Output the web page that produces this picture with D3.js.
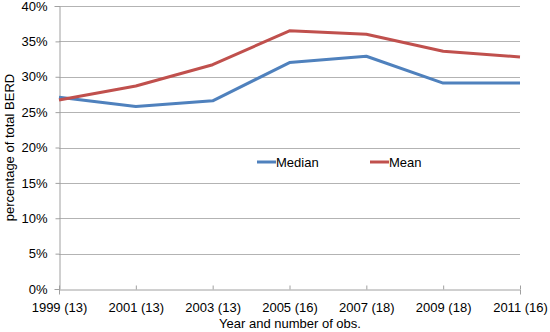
<!DOCTYPE html>
<html>
<head>
<meta charset="utf-8">
<script src="https://cdn.jsdelivr.net/npm/d3@7"></script>
<style>
  html, body { margin: 0; padding: 0; background: #fff; }
  svg text { font-family: "Liberation Sans", Arial, sans-serif; fill: #000; }
</style>
</head>
<body>
<svg id="chart" width="550" height="332"></svg>
<script>
// Share of business R&D (BERD), by survey year
const categories = ["1999 (13)", "2001 (13)", "2003 (13)", "2005 (16)", "2007 (18)", "2009 (18)", "2011 (16)"];
const medianValues = [0.271, 0.258, 0.266, 0.320, 0.329, 0.291, 0.291];
const meanValues   = [0.267, 0.287, 0.317, 0.365, 0.360, 0.336, 0.328];
const yTicks = [0, 0.05, 0.10, 0.15, 0.20, 0.25, 0.30, 0.35, 0.40];
const seriesNames = ["Median", "Mean"];
const seriesColors = ["#4F81BD", "#C0504D"];

const svg = d3.select("#chart");
const margin = { left: 59, right: 30, top: 6, bottom: 43 };
const width = 550, height = 332;

const x = d3.scalePoint().domain(categories).range([margin.left, width - margin.right]);
const y = d3.scaleLinear().domain([0, 0.40]).range([height - margin.bottom, margin.top]);

// horizontal gridlines
svg.append("g")
  .selectAll("line")
  .data(yTicks.filter(d => d > 0))
  .join("line")
  .attr("x1", margin.left).attr("x2", width - margin.right)
  .attr("y1", d => Math.round(y(d)) + 0.5).attr("y2", d => Math.round(y(d)) + 0.5)
  .attr("stroke", "#B3B3B3").attr("stroke-width", 1);

// y axis
const yAxis = svg.append("g")
  .attr("transform", `translate(${margin.left + 0.5},0)`)
  .call(d3.axisLeft(y).tickValues(yTicks).tickFormat(d3.format(".0%")).tickSize(5).tickPadding(7));
yAxis.attr("font-family", null);
yAxis.select(".domain").attr("stroke", "#A0A0A0");
yAxis.selectAll(".tick line").attr("stroke", "#A0A0A0").attr("x2", 0).attr("x1", -4);
yAxis.selectAll(".tick text").attr("font-size", 13).attr("fill", "#000");

// x axis
const xAxis = svg.append("g")
  .attr("transform", `translate(0,${Math.round(y(0)) + 0.5})`)
  .call(d3.axisBottom(x).tickSize(5).tickPadding(8));
xAxis.attr("font-family", null);
xAxis.select(".domain").attr("stroke", "#A0A0A0");
xAxis.selectAll(".tick line").attr("stroke", "#A0A0A0").attr("y1", -4).attr("y2", 0);
xAxis.selectAll(".tick text").attr("font-size", 13).attr("fill", "#000");

// series lines
const line = d3.line().x((d, i) => x(categories[i])).y(d => y(d));
[medianValues, meanValues].forEach((vals, k) => {
  svg.append("path")
    .datum(vals)
    .attr("fill", "none")
    .attr("stroke", seriesColors[k])
    .attr("stroke-width", 3)
    .attr("stroke-linejoin", "round")
    .attr("d", line);
});

// legend
const legendX = [257, 370];
const legendY = 162;
seriesNames.forEach((name, k) => {
  const g = svg.append("g").attr("transform", `translate(${legendX[k]},${legendY})`);
  g.append("line").attr("x1", 0).attr("x2", 19).attr("y1", 0).attr("y2", 0)
    .attr("stroke", seriesColors[k]).attr("stroke-width", 3);
  g.append("text").attr("x", 19).attr("y", 0).attr("dy", "0.35em")
    .attr("font-size", 13).text(name);
});

// axis titles
svg.append("text")
  .attr("transform", `translate(9,${(margin.top + height - margin.bottom) / 2}) rotate(-90)`)
  .attr("text-anchor", "middle").attr("dy", "0.35em")
  .attr("font-size", 13).text("percentage of total BERD");

svg.append("text")
  .attr("x", 290).attr("y", 323).attr("dy", "0.35em")
  .attr("text-anchor", "middle")
  .attr("font-size", 13).text("Year and number of obs.");
</script>
</body>
</html>
